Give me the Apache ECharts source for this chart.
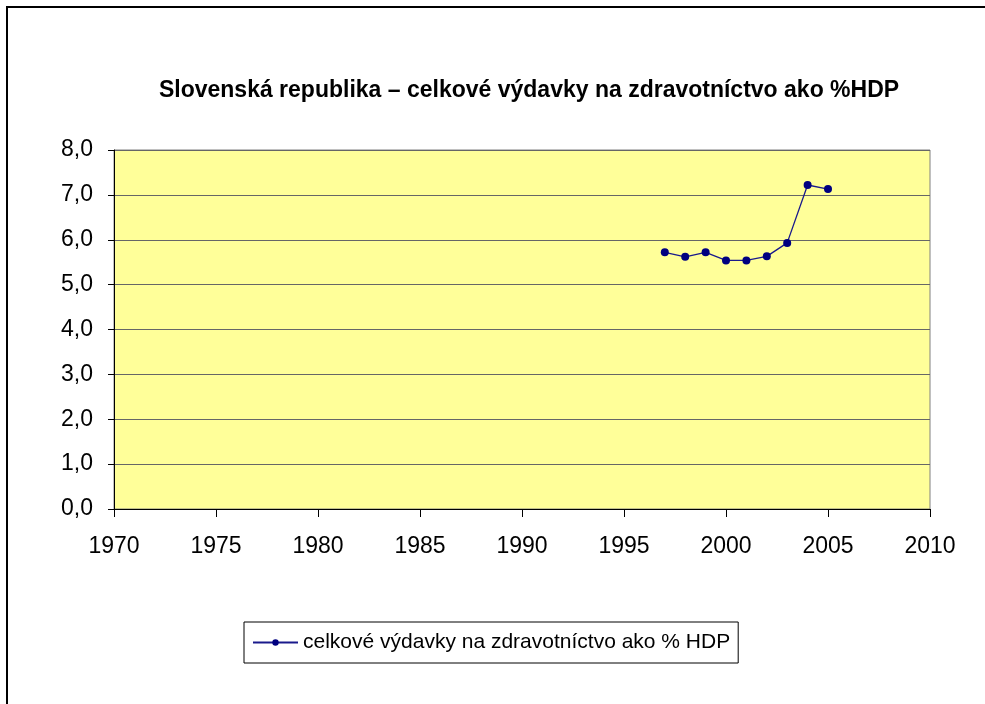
<!DOCTYPE html>
<html>
<head>
<meta charset="utf-8">
<script src="https://cdn.jsdelivr.net/npm/echarts@6/dist/echarts.min.js"></script>
<style>
  html, body { margin: 0; padding: 0; background: #fff; }
  #chart { width: 985px; height: 704px; }
</style>
</head>
<body>
<div id="chart"></div>
<script>
// Years and total health expenditure (% of GDP), Slovak Republic
const years = [1997, 1998, 1999, 2000, 2001, 2002, 2003, 2004, 2005];
const spending = [5.72, 5.62, 5.72, 5.54, 5.54, 5.63, 5.93, 7.22, 7.13];

const titleText = 'Slovenská republika – celkové výdavky na zdravotníctvo ako %HDP';
const seriesName = 'celkové výdavky na zdravotníctvo ako % HDP';

const xMin = 1970, xMax = 2010, xStep = 5;
const yMin = 0, yMax = 8, yStep = 1;

const chart = echarts.init(document.getElementById('chart'), null, { renderer: 'canvas' });

const font = 'Liberation Sans, Arial, Helvetica, sans-serif';

chart.setOption({
  backgroundColor: '#ffffff',
  animation: false,
  textStyle: { fontFamily: font },
  title: {
    text: titleText,
    left: 524,
    textAlign: 'center',
    top: 74,
    textStyle: { fontFamily: font, fontSize: 23, fontWeight: 'bold', color: '#000' }
  },
  grid: {
    left: 114,
    right: 55,
    top: 150,
    bottom: 195,
    show: true,
    backgroundColor: '#FFFF99',
    borderColor: '#808080',
    borderWidth: 1
  },
  legend: {
    left: 244,
    top: 622,
    orient: 'horizontal',
    padding: [10, 8, 10, 8],
    borderColor: '#000',
    borderWidth: 1,
    itemWidth: 45,
    itemHeight: 8,
    itemGap: 6,
    textStyle: { fontFamily: font, fontSize: 21, color: '#000' },
    data: [{ name: seriesName }]
  },
  xAxis: {
    type: 'value',
    min: xMin,
    max: xMax,
    interval: xStep,
    axisLine: { show: true, lineStyle: { color: '#000', width: 1 } },
    axisTick: { show: true, inside: false, length: 8, lineStyle: { color: '#000' } },
    axisLabel: {
      fontFamily: font, fontSize: 23, color: '#000', margin: 26,
      formatter: v => String(v)
    },
    splitLine: { show: false }
  },
  yAxis: {
    type: 'value',
    min: yMin,
    max: yMax,
    interval: yStep,
    axisLine: { show: true, lineStyle: { color: '#000', width: 1 } },
    axisTick: { show: true, inside: false, length: 6, lineStyle: { color: '#000' } },
    axisLabel: {
      fontFamily: font, fontSize: 23, color: '#000', margin: 21,
      formatter: v => v.toFixed(1).replace('.', ',')
    },
    splitLine: { show: true, lineStyle: { color: '#666', width: 1 } }
  },
  series: [{
    name: seriesName,
    type: 'line',
    data: years.map((y, i) => [y, spending[i]]),
    symbol: 'circle',
    symbolSize: 8,
    showAllSymbol: true,
    lineStyle: { color: '#1a1a8c', width: 1.3 },
    itemStyle: { color: '#000080' }
  }],
  graphic: [{
    type: 'polyline',
    shape: { points: [[7, 704], [7, 7], [985, 7]] },
    style: { stroke: '#000', lineWidth: 2, fill: null },
    silent: true
  }]
});
</script>
</body>
</html>
